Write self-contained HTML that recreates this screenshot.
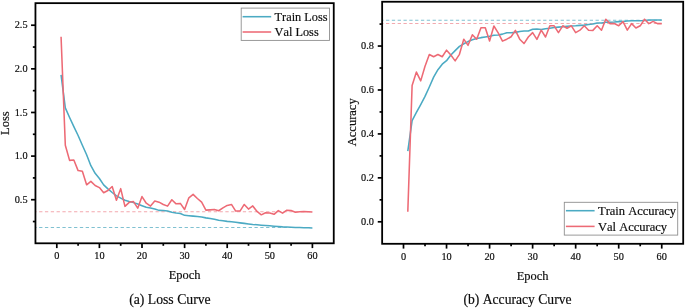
<!DOCTYPE html>
<html lang="en">
<head>
<meta charset="utf-8">
<title>Training curves</title>
<style>
html,body{margin:0;padding:0;background:#fff;}
body{width:685px;height:308px;overflow:hidden;}
svg{display:block;font-family:'Liberation Serif', 'DejaVu Serif', serif;fill:#000;font-kerning:none;}
svg text{fill:#0c0c0c;stroke:#0c0c0c;stroke-width:0.18px;}
</style>
</head>
<body>
<svg width="685" height="308" viewBox="0 0 685 308">
<rect width="685" height="308" fill="#fff"/>
<line x1="35.45" y1="227.50" x2="312.40" y2="227.50" stroke="#80c1d1" stroke-width="1.05" stroke-dasharray="3.3 2.52" stroke-dashoffset="2.15"/>
<line x1="35.45" y1="211.80" x2="312.40" y2="211.80" stroke="#f3a9af" stroke-width="1.05" stroke-dasharray="3.3 2.52" stroke-dashoffset="2.15"/>
<polyline points="61.06,74.97 65.32,107.86 69.58,117.46 73.84,126.62 78.10,135.52 82.36,145.29 86.62,154.72 90.88,165.71 95.14,173.30 99.40,178.53 103.66,184.90 107.92,188.83 112.18,192.50 116.44,195.90 120.70,198.08 124.96,200.26 129.22,201.57 133.48,202.62 137.74,203.92 142.00,205.67 146.26,207.33 150.52,208.03 154.78,209.07 159.04,210.38 163.30,210.47 167.56,211.08 171.82,212.21 176.08,213.00 180.34,213.44 184.60,215.35 188.86,215.70 193.12,216.14 197.38,216.58 201.64,217.01 205.90,217.88 210.16,218.50 214.42,219.28 218.68,220.33 222.94,220.76 227.20,221.37 231.46,221.81 235.72,222.33 239.98,222.86 244.24,223.38 248.50,223.99 252.76,224.52 257.02,224.78 261.28,225.21 265.54,225.56 269.80,225.82 274.06,226.17 278.32,226.52 282.58,226.87 286.84,227.05 291.10,227.31 295.36,227.48 299.62,227.57 303.88,227.74 308.14,227.83 312.40,227.92" fill="none" stroke="#4baac3" stroke-width="1.55" stroke-linejoin="round" stroke-linecap="butt"/>
<polyline points="61.06,36.67 65.32,145.29 69.58,160.39 73.84,160.04 78.10,170.60 82.36,171.29 86.62,184.82 90.88,181.33 95.14,185.51 99.40,187.61 103.66,192.76 107.92,190.49 112.18,186.47 116.44,200.26 120.70,188.66 124.96,206.37 129.22,202.35 133.48,201.57 137.74,208.20 142.00,196.60 146.26,203.23 150.52,206.11 154.78,201.05 159.04,202.18 163.30,204.45 167.56,206.11 171.82,199.74 176.08,203.84 180.34,203.40 184.60,209.51 188.86,197.82 193.12,194.41 197.38,198.52 201.64,202.18 205.90,210.12 210.16,209.86 214.42,209.51 218.68,210.73 222.94,207.94 227.20,205.41 231.46,204.45 235.72,211.08 239.98,211.08 244.24,204.45 248.50,209.07 252.76,205.93 257.02,211.43 261.28,214.83 265.54,212.74 269.80,213.09 274.06,214.31 278.32,210.56 282.58,213.09 286.84,210.21 291.10,210.56 295.36,212.21 299.62,211.78 303.88,211.43 308.14,211.78 312.40,212.04" fill="none" stroke="#ed6a75" stroke-width="1.55" stroke-linejoin="round" stroke-linecap="butt"/>
<line x1="56.80" y1="243.30" x2="56.80" y2="248.10" stroke="#000" stroke-width="1.7"/>
<text transform="translate(56.80,259.00) scale(0.945,1)" text-anchor="middle" font-size="10.92">0</text>
<line x1="99.40" y1="243.30" x2="99.40" y2="248.10" stroke="#000" stroke-width="1.7"/>
<text transform="translate(99.40,259.00) scale(0.945,1)" text-anchor="middle" font-size="10.92">10</text>
<line x1="142.00" y1="243.30" x2="142.00" y2="248.10" stroke="#000" stroke-width="1.7"/>
<text transform="translate(142.00,259.00) scale(0.945,1)" text-anchor="middle" font-size="10.92">20</text>
<line x1="184.60" y1="243.30" x2="184.60" y2="248.10" stroke="#000" stroke-width="1.7"/>
<text transform="translate(184.60,259.00) scale(0.945,1)" text-anchor="middle" font-size="10.92">30</text>
<line x1="227.20" y1="243.30" x2="227.20" y2="248.10" stroke="#000" stroke-width="1.7"/>
<text transform="translate(227.20,259.00) scale(0.945,1)" text-anchor="middle" font-size="10.92">40</text>
<line x1="269.80" y1="243.30" x2="269.80" y2="248.10" stroke="#000" stroke-width="1.7"/>
<text transform="translate(269.80,259.00) scale(0.945,1)" text-anchor="middle" font-size="10.92">50</text>
<line x1="312.40" y1="243.30" x2="312.40" y2="248.10" stroke="#000" stroke-width="1.7"/>
<text transform="translate(312.40,259.00) scale(0.945,1)" text-anchor="middle" font-size="10.92">60</text>
<line x1="78.10" y1="243.30" x2="78.10" y2="245.80" stroke="#000" stroke-width="1.7"/>
<line x1="120.70" y1="243.30" x2="120.70" y2="245.80" stroke="#000" stroke-width="1.7"/>
<line x1="163.30" y1="243.30" x2="163.30" y2="245.80" stroke="#000" stroke-width="1.7"/>
<line x1="205.90" y1="243.30" x2="205.90" y2="245.80" stroke="#000" stroke-width="1.7"/>
<line x1="248.50" y1="243.30" x2="248.50" y2="245.80" stroke="#000" stroke-width="1.7"/>
<line x1="291.10" y1="243.30" x2="291.10" y2="245.80" stroke="#000" stroke-width="1.7"/>
<line x1="31.05" y1="199.72" x2="35.45" y2="199.72" stroke="#000" stroke-width="1.7"/>
<text transform="translate(27.60,202.97) scale(0.945,1)" text-anchor="end" font-size="10.92">0.5</text>
<line x1="31.05" y1="156.10" x2="35.45" y2="156.10" stroke="#000" stroke-width="1.7"/>
<text transform="translate(27.60,159.35) scale(0.945,1)" text-anchor="end" font-size="10.92">1.0</text>
<line x1="31.05" y1="112.47" x2="35.45" y2="112.47" stroke="#000" stroke-width="1.7"/>
<text transform="translate(27.60,115.72) scale(0.945,1)" text-anchor="end" font-size="10.92">1.5</text>
<line x1="31.05" y1="68.85" x2="35.45" y2="68.85" stroke="#000" stroke-width="1.7"/>
<text transform="translate(27.60,72.10) scale(0.945,1)" text-anchor="end" font-size="10.92">2.0</text>
<line x1="31.05" y1="25.22" x2="35.45" y2="25.22" stroke="#000" stroke-width="1.7"/>
<text transform="translate(27.60,28.47) scale(0.945,1)" text-anchor="end" font-size="10.92">2.5</text>
<line x1="32.85" y1="221.54" x2="35.45" y2="221.54" stroke="#000" stroke-width="1.7"/>
<line x1="32.85" y1="177.91" x2="35.45" y2="177.91" stroke="#000" stroke-width="1.7"/>
<line x1="32.85" y1="134.29" x2="35.45" y2="134.29" stroke="#000" stroke-width="1.7"/>
<line x1="32.85" y1="90.66" x2="35.45" y2="90.66" stroke="#000" stroke-width="1.7"/>
<line x1="32.85" y1="47.04" x2="35.45" y2="47.04" stroke="#000" stroke-width="1.7"/>
<rect x="35.45" y="3.15" width="298.30" height="240.15" fill="none" stroke="#000" stroke-width="1.8"/>
<text transform="translate(184.60,278.80) scale(0.945,1)" text-anchor="middle" font-size="13.20">Epoch</text>
<text transform="translate(9.30,123.10) rotate(-90) scale(0.945,1)" text-anchor="middle" font-size="13.25">Loss</text>
<text transform="translate(169.90,303.70) scale(0.945,1)" text-anchor="middle" font-size="14.52">(a) Loss Curve</text>
<rect x="241.2" y="8.1" width="88.3" height="32.3" fill="#fff" stroke="#8f8f8f" stroke-width="0.9"/>
<line x1="242.6" y1="16.7" x2="271.2" y2="16.7" stroke="#4baac3" stroke-width="1.55"/>
<text transform="translate(274.60,21.00) scale(0.945,1)" font-size="13.04">Train Loss</text>
<line x1="242.6" y1="32.0" x2="271.2" y2="32.0" stroke="#ed6a75" stroke-width="1.55"/>
<text transform="translate(274.60,36.30) scale(0.945,1)" font-size="13.04">Val Loss</text>
<line x1="382.15" y1="20.21" x2="661.74" y2="20.21" stroke="#80c1d1" stroke-width="1.05" stroke-dasharray="3.3 2.52" stroke-dashoffset="1.95"/>
<line x1="382.15" y1="23.57" x2="661.74" y2="23.57" stroke="#f3a9af" stroke-width="1.05" stroke-dasharray="3.3 2.52" stroke-dashoffset="1.95"/>
<polyline points="407.80,151.07 412.11,120.58 416.41,112.46 420.72,104.56 425.02,96.44 429.32,87.01 433.63,77.13 437.93,69.68 442.24,64.19 446.54,60.68 450.84,54.98 455.15,50.59 459.45,46.42 463.76,43.79 468.06,41.59 472.36,39.84 476.67,38.52 480.97,37.64 485.28,36.98 489.58,36.33 493.88,35.23 498.19,35.01 502.49,34.13 506.80,32.82 511.10,32.82 515.40,32.38 519.71,31.50 524.01,31.06 528.32,31.06 532.62,29.31 536.92,29.09 541.23,29.53 545.53,28.65 549.84,28.21 554.14,27.55 558.44,27.11 562.75,26.67 567.05,26.23 571.36,26.01 575.66,25.80 579.96,25.36 584.27,25.14 588.57,24.48 592.88,24.04 597.18,22.94 601.48,22.94 605.79,22.28 610.09,22.28 614.40,22.07 618.70,21.63 623.00,21.41 627.31,20.97 631.61,20.75 635.92,20.75 640.22,20.75 644.52,20.53 648.83,20.09 653.13,20.09 657.44,20.09 661.74,20.09" fill="none" stroke="#4baac3" stroke-width="1.55" stroke-linejoin="round" stroke-linecap="butt"/>
<polyline points="407.80,211.74 412.11,85.47 416.41,72.09 420.72,80.86 425.02,66.16 429.32,54.54 433.63,56.73 437.93,54.54 442.24,56.73 446.54,50.15 450.84,54.98 455.15,60.90 459.45,54.32 463.76,39.18 468.06,45.32 472.36,34.79 476.67,39.18 480.97,27.77 485.28,27.77 489.58,40.93 493.88,26.01 498.19,32.82 502.49,41.15 506.80,39.18 511.10,36.77 515.40,30.40 519.71,39.18 524.01,43.57 528.32,36.98 532.62,32.60 536.92,39.40 541.23,30.18 545.53,36.98 549.84,25.80 554.14,25.80 558.44,32.60 562.75,25.80 567.05,28.21 571.36,25.80 575.66,32.60 579.96,30.18 584.27,25.80 588.57,30.18 592.88,30.40 597.18,25.80 601.48,30.18 605.79,19.21 610.09,23.60 614.40,23.60 618.70,25.80 623.00,21.63 627.31,30.18 631.61,23.60 635.92,27.99 640.22,25.80 644.52,19.21 648.83,23.60 653.13,21.41 657.44,23.60 661.74,23.60" fill="none" stroke="#ed6a75" stroke-width="1.55" stroke-linejoin="round" stroke-linecap="butt"/>
<line x1="403.50" y1="243.80" x2="403.50" y2="248.60" stroke="#000" stroke-width="1.7"/>
<text transform="translate(403.50,259.50) scale(0.945,1)" text-anchor="middle" font-size="10.92">0</text>
<line x1="446.54" y1="243.80" x2="446.54" y2="248.60" stroke="#000" stroke-width="1.7"/>
<text transform="translate(446.54,259.50) scale(0.945,1)" text-anchor="middle" font-size="10.92">10</text>
<line x1="489.58" y1="243.80" x2="489.58" y2="248.60" stroke="#000" stroke-width="1.7"/>
<text transform="translate(489.58,259.50) scale(0.945,1)" text-anchor="middle" font-size="10.92">20</text>
<line x1="532.62" y1="243.80" x2="532.62" y2="248.60" stroke="#000" stroke-width="1.7"/>
<text transform="translate(532.62,259.50) scale(0.945,1)" text-anchor="middle" font-size="10.92">30</text>
<line x1="575.66" y1="243.80" x2="575.66" y2="248.60" stroke="#000" stroke-width="1.7"/>
<text transform="translate(575.66,259.50) scale(0.945,1)" text-anchor="middle" font-size="10.92">40</text>
<line x1="618.70" y1="243.80" x2="618.70" y2="248.60" stroke="#000" stroke-width="1.7"/>
<text transform="translate(618.70,259.50) scale(0.945,1)" text-anchor="middle" font-size="10.92">50</text>
<line x1="661.74" y1="243.80" x2="661.74" y2="248.60" stroke="#000" stroke-width="1.7"/>
<text transform="translate(661.74,259.50) scale(0.945,1)" text-anchor="middle" font-size="10.92">60</text>
<line x1="425.02" y1="243.80" x2="425.02" y2="246.30" stroke="#000" stroke-width="1.7"/>
<line x1="468.06" y1="243.80" x2="468.06" y2="246.30" stroke="#000" stroke-width="1.7"/>
<line x1="511.10" y1="243.80" x2="511.10" y2="246.30" stroke="#000" stroke-width="1.7"/>
<line x1="554.14" y1="243.80" x2="554.14" y2="246.30" stroke="#000" stroke-width="1.7"/>
<line x1="597.18" y1="243.80" x2="597.18" y2="246.30" stroke="#000" stroke-width="1.7"/>
<line x1="640.22" y1="243.80" x2="640.22" y2="246.30" stroke="#000" stroke-width="1.7"/>
<line x1="377.75" y1="221.80" x2="382.15" y2="221.80" stroke="#000" stroke-width="1.7"/>
<text transform="translate(374.00,225.00) scale(0.945,1)" text-anchor="end" font-size="10.92">0.0</text>
<line x1="377.75" y1="177.86" x2="382.15" y2="177.86" stroke="#000" stroke-width="1.7"/>
<text transform="translate(374.00,181.06) scale(0.945,1)" text-anchor="end" font-size="10.92">0.2</text>
<line x1="377.75" y1="133.92" x2="382.15" y2="133.92" stroke="#000" stroke-width="1.7"/>
<text transform="translate(374.00,137.12) scale(0.945,1)" text-anchor="end" font-size="10.92">0.4</text>
<line x1="377.75" y1="89.98" x2="382.15" y2="89.98" stroke="#000" stroke-width="1.7"/>
<text transform="translate(374.00,93.18) scale(0.945,1)" text-anchor="end" font-size="10.92">0.6</text>
<line x1="377.75" y1="46.04" x2="382.15" y2="46.04" stroke="#000" stroke-width="1.7"/>
<text transform="translate(374.00,49.24) scale(0.945,1)" text-anchor="end" font-size="10.92">0.8</text>
<line x1="379.55" y1="199.83" x2="382.15" y2="199.83" stroke="#000" stroke-width="1.7"/>
<line x1="379.55" y1="155.89" x2="382.15" y2="155.89" stroke="#000" stroke-width="1.7"/>
<line x1="379.55" y1="111.95" x2="382.15" y2="111.95" stroke="#000" stroke-width="1.7"/>
<line x1="379.55" y1="68.01" x2="382.15" y2="68.01" stroke="#000" stroke-width="1.7"/>
<line x1="379.55" y1="24.07" x2="382.15" y2="24.07" stroke="#000" stroke-width="1.7"/>
<rect x="382.15" y="1.75" width="301.05" height="242.05" fill="none" stroke="#000" stroke-width="1.8"/>
<text transform="translate(532.62,279.75) scale(0.945,1)" text-anchor="middle" font-size="13.20">Epoch</text>
<text transform="translate(356.30,122.30) rotate(-90) scale(0.945,1)" text-anchor="middle" font-size="13.25">Accuracy</text>
<text transform="translate(517.50,303.90) scale(0.945,1)" text-anchor="middle" font-size="14.42">(b) Accuracy Curve</text>
<rect x="564.3" y="202.3" width="113.4" height="32.8" fill="#fff" stroke="#8f8f8f" stroke-width="0.9"/>
<line x1="565.9" y1="210.7" x2="594.6" y2="210.7" stroke="#4baac3" stroke-width="1.55"/>
<text transform="translate(598.00,215.00) scale(0.945,1)" font-size="13.25">Train Accuracy</text>
<line x1="565.9" y1="226.4" x2="594.6" y2="226.4" stroke="#ed6a75" stroke-width="1.55"/>
<text transform="translate(598.00,230.70) scale(0.945,1)" font-size="13.25">Val Accuracy</text>
</svg>
</body>
</html>
